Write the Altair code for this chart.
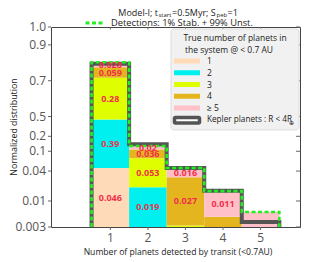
import math
import pandas as pd
import altair as alt

# ---------------- data ----------------
detected = [1, 2, 3, 4, 5]
true_labels = ["1", "2", "3", "4", "≥ 5"]
frac_true1 = [0.046, 0.0, 0.0, 0.0, 0.0]
frac_true2 = [0.39, 0.019, 0.0, 0.0, 0.0]
frac_true3 = [0.28, 0.053, 0.0032, 0.0, 0.0]
frac_true4 = [0.059, 0.036, 0.027, 0.0048, 0.0]
frac_true5 = [0.028, 0.02, 0.016, 0.011, 0.006]
kepler = [0.795, 0.139, 0.046, 0.016, 0.0038]
y_ticks = [0.003, 0.01, 0.04, 0.1, 0.2, 0.5, 0.7, 0.9, 1.0]
y_tick_labels = ["0.003", "0.01", "0.04", "0.1", "0.2", "0.5", "0.7", "0.9", "1.0"]
colors = ["#FFDAB9", "#00F0F0", "#DFFF00", "#E5B520", "#FFC0C8"]

FONT = "Open Sans"
W, H = 249, 200

# ---------------- scale transform (log below 0.5, linear above) ----------------
FLOOR = 0.003
KNEE = 0.5
LIN = 3.6
LOG_KNEE = round(math.log10(KNEE / FLOOR), 6)
INV_LN10 = round(1 / math.log(10), 8)


def fexpr(field):
    d = f"datum.{field}"
    return (f"{d} <= {FLOOR} ? 0 : ({d} < {KNEE} ? log({d}/{FLOOR})*{INV_LN10} : "
            f"{LOG_KNEE} + ({d} - {KNEE})*{LIN})")


y_top = round(LOG_KNEE + (1.0 - KNEE) * LIN, 6)

# ---------------- tables ----------------
series = [frac_true1, frac_true2, frac_true3, frac_true4, frac_true5]
rows = []
for k, (lab, vals) in enumerate(zip(true_labels, series)):
    for d, v in zip(detected, vals):
        rows.append({"detected": d, "true": lab, "order": k, "value": v,
                     "lab": f"{v:.2g}" if v >= 0.01 else ""})
bars_df = pd.DataFrame(rows)

totals = [sum(s[i] for s in series) for i in range(len(detected))]
edges = [d - 0.5 for d in detected] + [detected[-1] + 0.5]


def step_df(vals):
    xs = [edges[0]] + edges
    ys = [0.0] + list(vals) + [0.0]
    return pd.DataFrame({"x": xs, "v": ys, "i": list(range(len(xs)))})


kep_df = step_df(kepler)
det_df = step_df(totals)
ytick_df = pd.DataFrame({"v": y_ticks, "lab": y_tick_labels})
xtick_df = pd.DataFrame({"d": detected, "lab": [str(d) for d in detected]})
leg_df = pd.DataFrame({"true": true_labels, "rank": list(range(len(true_labels)))})

xscale = alt.Scale(domain=[-0.58, 6.05], nice=False, zero=False)
yscale = alt.Scale(domain=[0, y_top], nice=False, zero=False)
cscale = alt.Scale(domain=true_labels, range=colors)
legscale = alt.Scale(domain=[0, 4], range=[34, 81], nice=False, zero=False)

# ---------------- data layers ----------------
base = alt.Chart(bars_df).transform_stack(
    stack="value", groupby=["detected"], as_=["lo", "hi"],
    sort=[alt.SortField("order", order="ascending")]
).transform_calculate(
    tlo=fexpr("lo"), thi=fexpr("hi"),
    xl="datum.detected - 0.5", xr="datum.detected + 0.5"
).transform_calculate(
    tmid="(datum.tlo + datum.thi)/2"
)

bars = base.mark_rect().encode(
    x=alt.X("xl:Q", scale=xscale, axis=None),
    x2="xr:Q",
    y=alt.Y("tlo:Q", scale=yscale, axis=None),
    y2="thi:Q",
    color=alt.Color("true:N", scale=cscale, legend=None),
)

labels = base.mark_text(font=FONT, fontSize=9, fontWeight="bold", color="#F0304A",
                        baseline="middle").encode(
    x=alt.X("detected:Q", scale=xscale, axis=None),
    y=alt.Y("tmid:Q", scale=yscale, axis=None),
    text="lab:N",
)

kep_line = alt.Chart(kep_df).transform_calculate(t=fexpr("v")).mark_line(
    interpolate="step-after", strokeWidth=4, clip=True, color="#555555"
).encode(
    x=alt.X("x:Q", scale=xscale, axis=None),
    y=alt.Y("t:Q", scale=yscale, axis=None),
    order="i:Q",
)

det_line = alt.Chart(det_df).transform_calculate(t=fexpr("v")).mark_line(
    interpolate="step-after", strokeWidth=2.6, strokeDash=[4, 2.5], clip=True,
    color="#22EE22"
).encode(
    x=alt.X("x:Q", scale=xscale, axis=None),
    y=alt.Y("t:Q", scale=yscale, axis=None),
    order="i:Q",
)

# ---------------- axes (drawn through the same scales) ----------------
yt = alt.Chart(ytick_df).transform_calculate(t=fexpr("v"))
ytick_left = yt.mark_rule(color="#666").encode(
    x=alt.value(-3), x2=alt.value(0), y=alt.Y("t:Q", scale=yscale, axis=None))
ytick_right = yt.mark_rule(color="#666").encode(
    x=alt.value(W - 4), x2=alt.value(W), y=alt.Y("t:Q", scale=yscale, axis=None))
ytick_lab = yt.mark_text(font=FONT, fontSize=12, color="#555", align="right",
                         baseline="middle").encode(
    x=alt.value(-5), y=alt.Y("t:Q", scale=yscale, axis=None), text="lab:N")

xt = alt.Chart(xtick_df)
xtick_bot = xt.mark_rule(color="#666").encode(
    x=alt.X("d:Q", scale=xscale, axis=None), y=alt.value(H), y2=alt.value(H + 3))
xtick_top = xt.mark_rule(color="#666").encode(
    x=alt.X("d:Q", scale=xscale, axis=None), y=alt.value(0), y2=alt.value(2.5))
xtick_lab = xt.mark_text(font=FONT, fontSize=12, color="#555", baseline="middle").encode(
    x=alt.X("d:Q", scale=xscale, axis=None), y=alt.value(H + 11), text="lab:N")


def note(txt, px, py, fs=9.0, align="center", color="#222", angle=0):
    mk = dict(font=FONT, fontSize=fs, color=color, baseline="middle", align=align)
    if angle:
        mk["angle"] = angle
    return alt.Chart(pd.DataFrame({"txt": [txt]})).mark_text(**mk).encode(
        x=alt.value(px), y=alt.value(py), text="txt:N")


x_title = note("Number of planets detected by transit (<0.7AU)", 127, H + 25, 8.6, color="#222")
y_title = note("Normalized distribution", -37, 100, 8.8, color="#222", angle=270)

# ---------------- legend (box) ----------------
legend_bg = alt.Chart(pd.DataFrame({"a": [0]})).mark_rect(
    fill="#F1F1F1", stroke="#DDDDDD", cornerRadius=3
).encode(x=alt.value(120), x2=alt.value(W - 1), y=alt.value(2), y2=alt.value(103))

legend_title = [
    note("True number of planets in", 184, 11, 8.5),
    note("the system @ < 0.7 AU", 178, 23, 8.5),
]

leg = alt.Chart(leg_df)
leg_sw = leg.mark_rule(strokeWidth=5, strokeCap="butt").encode(
    x=alt.value(123), x2=alt.value(149),
    y=alt.Y("rank:Q", scale=legscale, axis=None),
    color=alt.Color("true:N", scale=cscale, legend=None),
)
leg_lab = leg.mark_text(font=FONT, fontSize=8.5, color="#222", align="left",
                        baseline="middle").encode(
    x=alt.value(156), y=alt.Y("rank:Q", scale=legscale, axis=None), text="true:N")

kep_sw = alt.Chart(pd.DataFrame({"a": [0]})).mark_rect(
    fill="white", stroke="#555555", strokeWidth=3.5, cornerRadius=1
).encode(x=alt.value(123.5), x2=alt.value(148.5), y=alt.value(90.5), y2=alt.value(96))
kep_lab = note("Kepler planets : R < 4R", 156, 93, 8.2, "left")
kep_sub = note("⊕", 237.5, 95.5, 5.5, "left")

# ---------------- top title and detection legend ----------------
title_parts = [
    note("Model-I; t", 107, -14, 9, "right"),
    note("start", 107.4, -12.5, 6, "left"),
    note("=0.5Myr; S", 121, -14, 9, "left"),
    note("peb", 165.5, -12.5, 6, "left"),
    note("=1", 176.5, -14, 9, "left"),
]

det_sym = alt.Chart(pd.DataFrame({"a": [0]})).mark_rule(
    color="#22EE22", strokeWidth=3, strokeDash=[4, 2.5]
).encode(x=alt.value(34.5), x2=alt.value(51.5), y=alt.value(-4))
det_text = note("Detections: 1% Stab. + 99% Unst.", 60, -4, 9.3, "left")

chart = alt.layer(
    bars, kep_line, det_line, labels,
    ytick_left, ytick_right, ytick_lab, xtick_bot, xtick_top, xtick_lab, x_title, y_title,
    legend_bg, *legend_title, leg_sw, leg_lab, kep_sw, kep_lab, kep_sub,
    det_sym, det_text, *title_parts
).resolve_scale(y="independent").properties(
    width=W, height=H,
    padding={"left": 43, "top": 19, "right": 1, "bottom": 35},
    autosize="none",
).configure(font=FONT, view={"stroke": "#444", "strokeWidth": 1})

chart.save("out.html", embed_options={"renderer": "svg", "actions": False})
